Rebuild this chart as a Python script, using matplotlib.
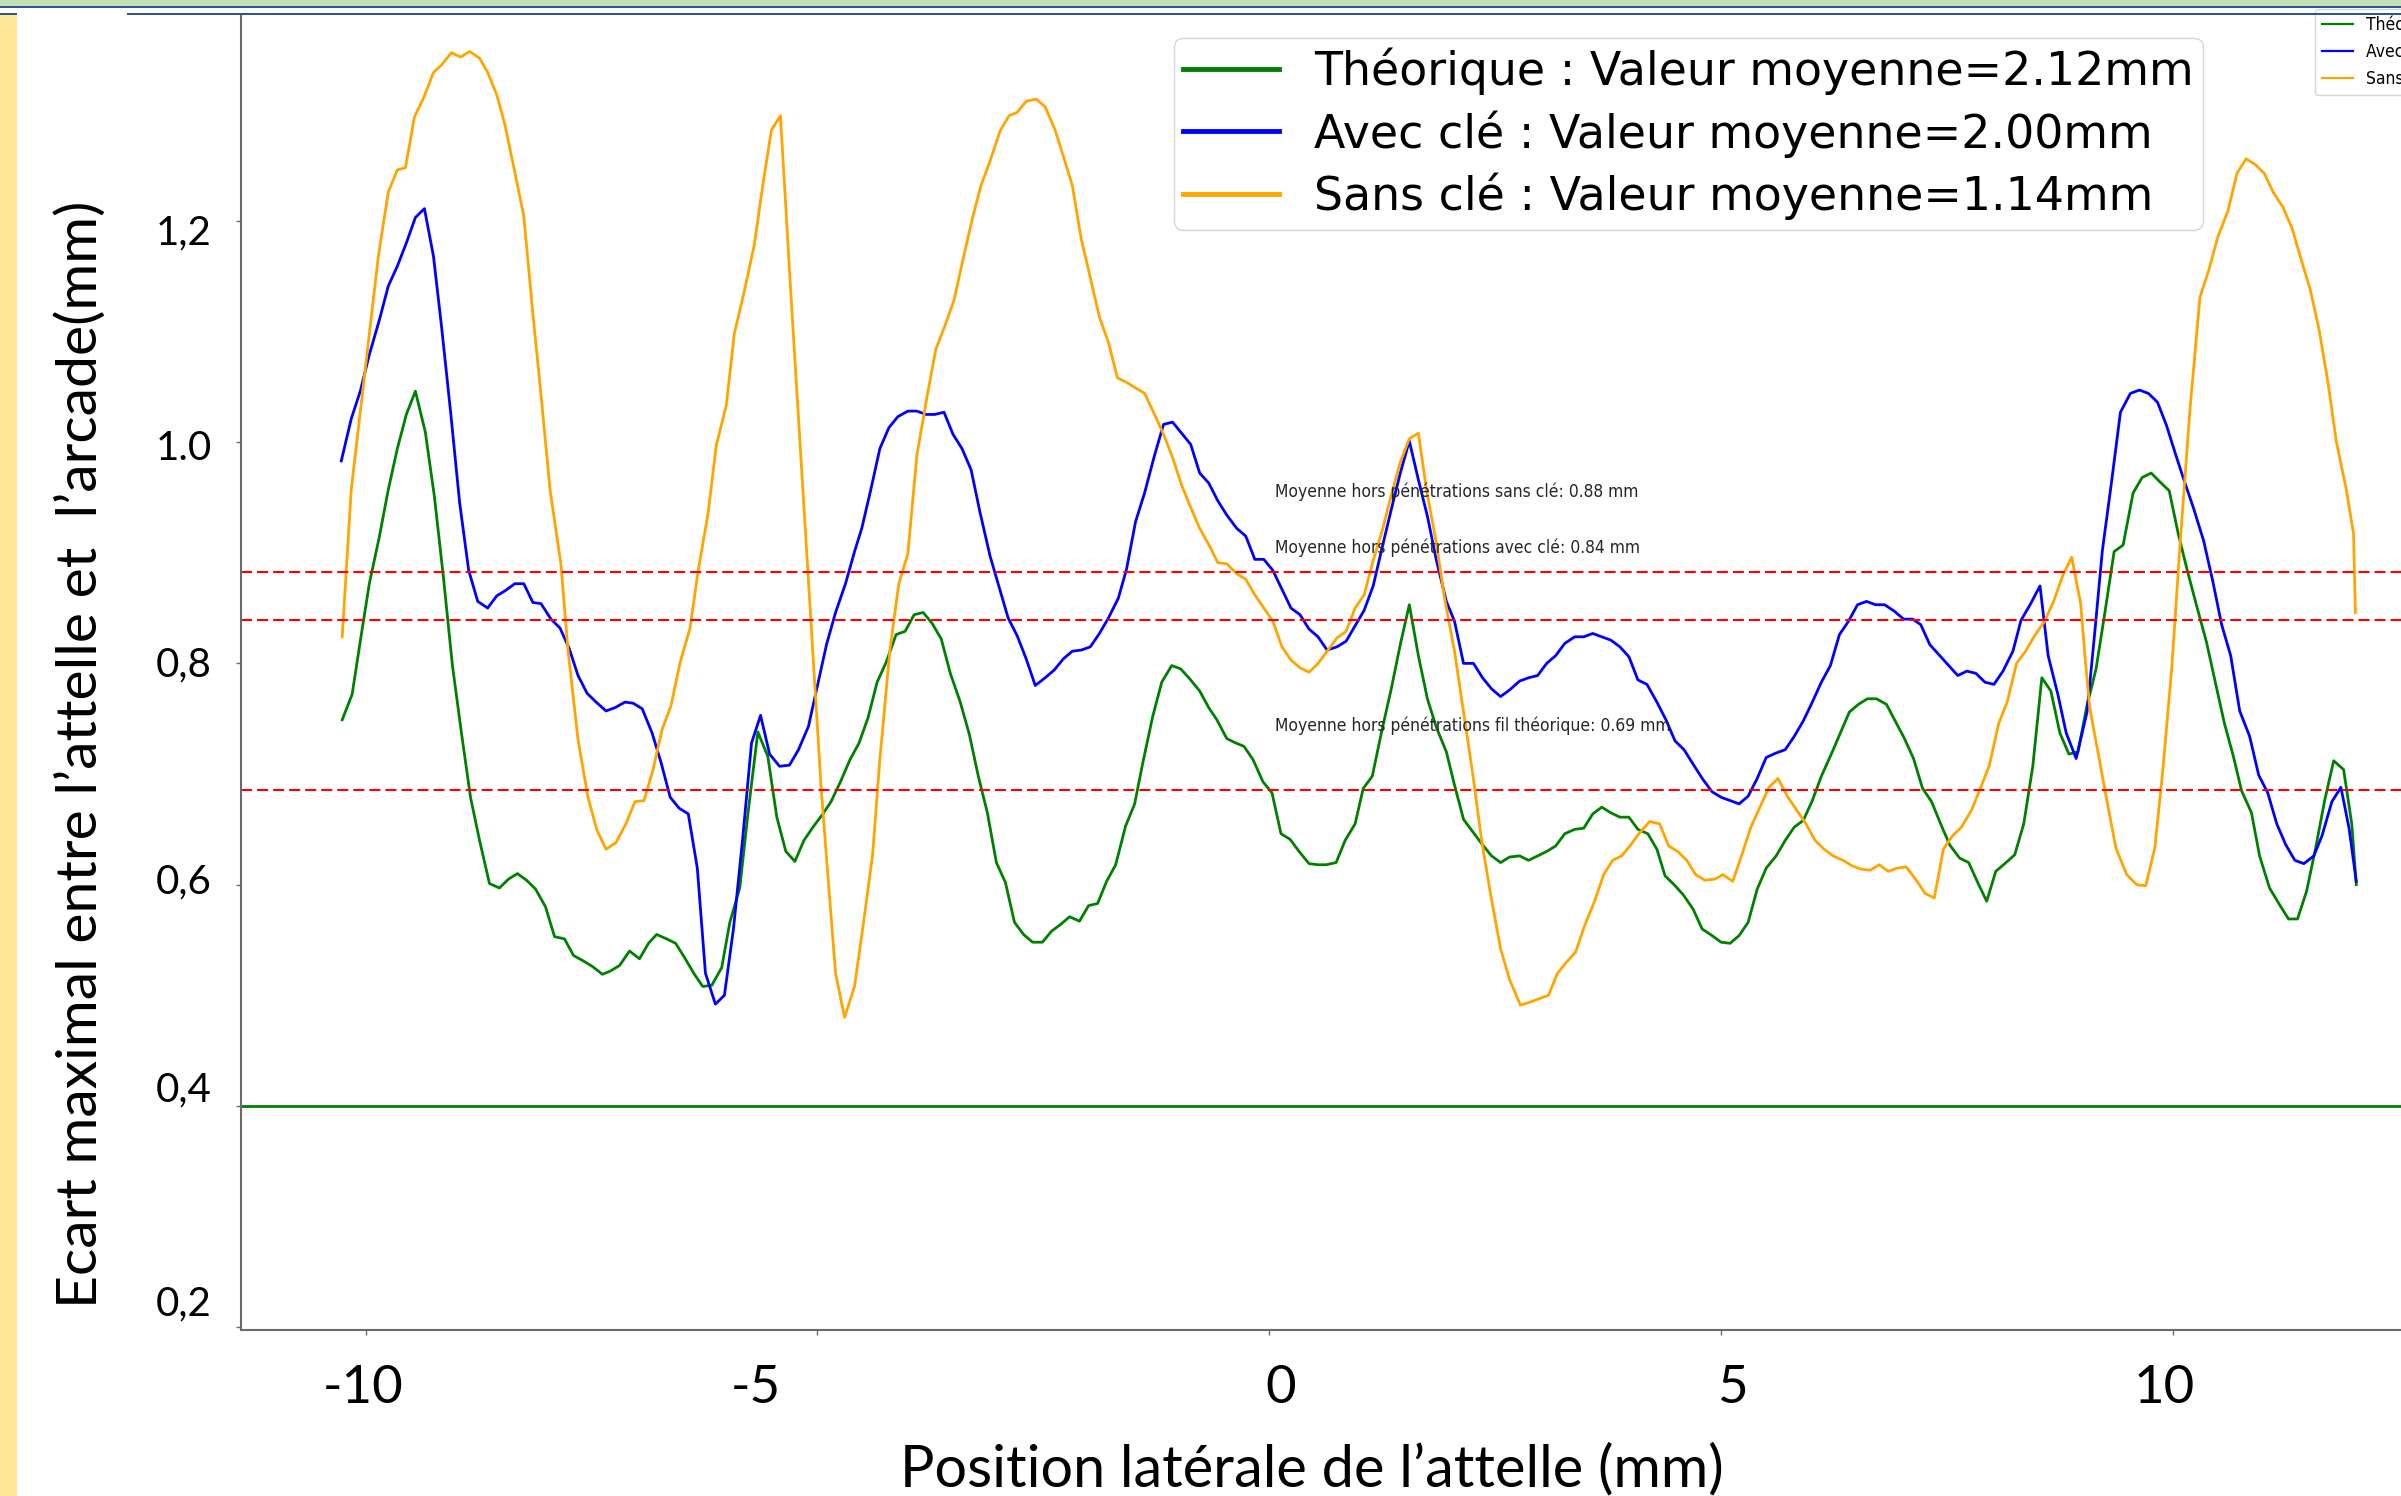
import matplotlib
matplotlib.use("Agg")
import matplotlib.pyplot as plt
from matplotlib.patches import Rectangle
from matplotlib.lines import Line2D
from matplotlib.transforms import blended_transform_factory, ScaledTranslation

W, H, DPI = 2401, 1496, 100

# ---------------- data ----------------
theo_x = [-10.26, -10.15, -10.06, -9.96, -9.85, -9.75, -9.65, -9.55, -9.45, -9.34, -9.24, -9.14, -9.04, -8.94, -8.84, -8.74,
          -8.63, -8.52, -8.42, -8.32, -8.22, -8.12, -8.01, -7.91, -7.80, -7.70, -7.59, -7.49, -7.38, -7.29, -7.19, -7.08,
          -6.97, -6.87, -6.78, -6.67, -6.57, -6.47, -6.37, -6.27, -6.17, -6.06, -5.97, -5.86, -5.77, -5.66, -5.55,
          -5.45, -5.35, -5.25, -5.15, -5.05, -4.94, -4.85, -4.74, -4.64, -4.54, -4.44, -4.34, -4.24, -4.13, -4.03, -3.93,
          -3.83, -3.73, -3.63, -3.53, -3.42, -3.32, -3.22, -3.12, -3.02, -2.92, -2.82, -2.72, -2.62, -2.51, -2.41, -2.31,
          -2.21, -2.10, -2.00, -1.90, -1.80, -1.70, -1.59, -1.49, -1.40, -1.29, -1.19, -1.08, -0.98, -0.88, -0.77, -0.67,
          -0.58, -0.47, -0.37, -0.28, -0.18, -0.07, 0.03, 0.13, 0.23, 0.33, 0.44, 0.54, 0.63, 0.74, 0.84, 0.95,
          1.04, 1.14, 1.24, 1.35, 1.45, 1.55, 1.65, 1.75, 1.85, 1.96, 2.05, 2.15, 2.26, 2.36, 2.46, 2.56,
          2.66, 2.77, 2.87, 2.97, 3.07, 3.17, 3.27, 3.38, 3.48, 3.58, 3.68, 3.78, 3.88, 3.98, 4.08, 4.19,
          4.29, 4.38, 4.48, 4.58, 4.69, 4.79, 4.90, 5.00, 5.10, 5.20, 5.30, 5.40, 5.50, 5.61, 5.71, 5.81,
          5.91, 6.01, 6.11, 6.22, 6.32, 6.42, 6.52, 6.62, 6.72, 6.83, 6.92, 7.03, 7.13, 7.23, 7.33, 7.43,
          7.53, 7.64, 7.74, 7.84, 7.94, 8.04, 8.14, 8.25, 8.35, 8.45, 8.55, 8.65, 8.75, 8.85, 8.95,
          9.05, 9.15, 9.25, 9.35, 9.45, 9.56, 9.66, 9.76, 9.87, 9.96, 10.06, 10.16, 10.26, 10.37, 10.47, 10.57,
          10.67, 10.76, 10.87, 10.96, 11.07, 11.18, 11.28, 11.38, 11.48, 11.58, 11.68, 11.78, 11.89, 11.98, 12.03]
theo_y = [0.749, 0.772, 0.820, 0.872, 0.914, 0.957, 0.994, 1.025, 1.046, 1.009, 0.951, 0.878, 0.798, 0.737, 0.679, 0.640,
          0.601, 0.597, 0.605, 0.610, 0.604, 0.596, 0.580, 0.553, 0.551, 0.536, 0.531, 0.526, 0.519, 0.522, 0.527, 0.540,
          0.533, 0.547, 0.555, 0.551, 0.547, 0.534, 0.520, 0.508, 0.509, 0.525, 0.566, 0.597, 0.664, 0.738, 0.716,
          0.661, 0.630, 0.621, 0.640, 0.652, 0.664, 0.675, 0.694, 0.713, 0.728, 0.751, 0.783, 0.801, 0.826, 0.829, 0.844,
          0.846, 0.836, 0.822, 0.791, 0.765, 0.736, 0.698, 0.665, 0.620, 0.602, 0.566, 0.555, 0.548, 0.548, 0.558, 0.564,
          0.571, 0.567, 0.581, 0.583, 0.603, 0.618, 0.653, 0.673, 0.710, 0.752, 0.783, 0.798, 0.795, 0.786, 0.775, 0.760,
          0.749, 0.732, 0.728, 0.725, 0.713, 0.693, 0.683, 0.646, 0.641, 0.630, 0.619, 0.618, 0.618, 0.620, 0.640, 0.655,
          0.687, 0.698, 0.737, 0.777, 0.817, 0.853, 0.807, 0.768, 0.742, 0.720, 0.690, 0.659, 0.647, 0.636, 0.626, 0.620,
          0.625, 0.626, 0.622, 0.626, 0.630, 0.635, 0.646, 0.650, 0.651, 0.664, 0.670, 0.665, 0.661, 0.661, 0.650, 0.646,
          0.632, 0.608, 0.600, 0.591, 0.578, 0.560, 0.554, 0.548, 0.547, 0.554, 0.566, 0.596, 0.615, 0.626, 0.640, 0.652,
          0.658, 0.676, 0.698, 0.718, 0.737, 0.756, 0.763, 0.768, 0.768, 0.763, 0.749, 0.732, 0.714, 0.687, 0.675, 0.655,
          0.636, 0.624, 0.620, 0.602, 0.585, 0.612, 0.619, 0.627, 0.655, 0.707, 0.787, 0.775, 0.737, 0.718, 0.720,
          0.762, 0.795, 0.847, 0.901, 0.907, 0.954, 0.968, 0.972, 0.963, 0.956, 0.917, 0.884, 0.853, 0.820, 0.783, 0.746,
          0.716, 0.685, 0.665, 0.626, 0.597, 0.582, 0.569, 0.569, 0.594, 0.633, 0.676, 0.712, 0.704, 0.655, 0.600]

avec_x = [-10.27, -10.16, -10.06, -9.96, -9.85, -9.75, -9.65, -9.55, -9.45, -9.35, -9.25, -9.16, -9.06, -8.96, -8.86, -8.76,
          -8.65, -8.55, -8.45, -8.35, -8.25, -8.15, -8.06, -7.95, -7.85, -7.75, -7.65, -7.55, -7.45, -7.34, -7.24, -7.13,
          -7.04, -6.94, -6.83, -6.73, -6.63, -6.53, -6.43, -6.33, -6.24, -6.13, -6.03, -5.93, -5.83, -5.73, -5.63, -5.53,
          -5.42, -5.31, -5.21, -5.10, -5.00, -4.90, -4.80, -4.69, -4.59, -4.51, -4.41, -4.31, -4.21, -4.11, -4.00, -3.90,
          -3.80, -3.70, -3.60, -3.50, -3.40, -3.30, -3.20, -3.09, -2.99, -2.89, -2.79, -2.69, -2.59, -2.48, -2.38, -2.28,
          -2.18, -2.08, -1.98, -1.88, -1.78, -1.67, -1.58, -1.48, -1.38, -1.27, -1.17, -1.07, -0.97, -0.87, -0.77, -0.67,
          -0.57, -0.47, -0.36, -0.26, -0.16, -0.06, 0.04, 0.14, 0.24, 0.34, 0.44, 0.54, 0.64, 0.75, 0.85, 0.95,
          1.05, 1.15, 1.25, 1.35, 1.45, 1.55, 1.65, 1.75, 1.85, 1.96, 2.05, 2.15, 2.26, 2.36, 2.46, 2.56,
          2.66, 2.77, 2.87, 2.97, 3.07, 3.17, 3.27, 3.38, 3.48, 3.58, 3.68, 3.78, 3.88, 3.98, 4.08,
          4.18, 4.29, 4.39, 4.49, 4.59, 4.69, 4.80, 4.90, 5.00, 5.10, 5.20, 5.30, 5.40, 5.50, 5.61, 5.71,
          5.81, 5.91, 6.01, 6.11, 6.21, 6.31, 6.41, 6.51, 6.61, 6.71, 6.81, 6.92, 7.02, 7.12, 7.21, 7.31,
          7.42, 7.52, 7.62, 7.72, 7.82, 7.92, 8.02, 8.12, 8.23, 8.32, 8.42, 8.53, 8.62, 8.73, 8.82, 8.93,
          9.05, 9.13, 9.22, 9.32, 9.42, 9.53, 9.63, 9.73, 9.83, 9.93, 10.03, 10.13, 10.23, 10.34, 10.44, 10.54,
          10.64, 10.74, 10.85, 10.95, 11.05, 11.15, 11.25, 11.35, 11.45, 11.56, 11.65, 11.76, 11.86, 11.95, 12.03]
avec_y = [0.983, 1.021, 1.046, 1.079, 1.110, 1.141, 1.159, 1.180, 1.203, 1.211, 1.168, 1.104, 1.027, 0.945, 0.884, 0.856,
          0.850, 0.861, 0.866, 0.872, 0.872, 0.855, 0.854, 0.840, 0.832, 0.814, 0.789, 0.773, 0.765, 0.757, 0.760, 0.765,
          0.764, 0.759, 0.737, 0.710, 0.679, 0.669, 0.664, 0.615, 0.520, 0.492, 0.500, 0.560, 0.640, 0.728, 0.753, 0.718,
          0.707, 0.708, 0.722, 0.743, 0.780, 0.817, 0.846, 0.872, 0.901, 0.922, 0.957, 0.994, 1.013, 1.023, 1.028, 1.028,
          1.025, 1.025, 1.027, 1.007, 0.994, 0.975, 0.936, 0.897, 0.869, 0.841, 0.825, 0.804, 0.780, 0.787, 0.794, 0.804,
          0.811, 0.812, 0.815, 0.827, 0.841, 0.859, 0.885, 0.928, 0.954, 0.988, 1.016, 1.018, 1.008, 0.998, 0.972, 0.963,
          0.947, 0.934, 0.922, 0.915, 0.894, 0.894, 0.884, 0.867, 0.850, 0.844, 0.831, 0.824, 0.812, 0.815, 0.820, 0.834,
          0.848, 0.870, 0.905, 0.939, 0.972, 1.001, 0.966, 0.933, 0.893, 0.856, 0.838, 0.800, 0.800, 0.787, 0.777, 0.770,
          0.776, 0.784, 0.787, 0.789, 0.800, 0.807, 0.818, 0.824, 0.824, 0.827, 0.824, 0.821, 0.815, 0.806, 0.785,
          0.781, 0.765, 0.749, 0.730, 0.722, 0.709, 0.695, 0.684, 0.679, 0.676, 0.673, 0.680, 0.696, 0.715, 0.719, 0.722,
          0.734, 0.748, 0.765, 0.783, 0.798, 0.826, 0.838, 0.853, 0.856, 0.853, 0.853, 0.847, 0.840, 0.840, 0.835, 0.817,
          0.807, 0.798, 0.789, 0.793, 0.791, 0.783, 0.781, 0.793, 0.811, 0.839, 0.853, 0.870, 0.807, 0.771, 0.737, 0.714,
          0.756, 0.823, 0.902, 0.963, 1.027, 1.044, 1.047, 1.044, 1.036, 1.015, 0.989, 0.964, 0.940, 0.911, 0.875, 0.835,
          0.807, 0.757, 0.734, 0.699, 0.683, 0.655, 0.636, 0.622, 0.619, 0.626, 0.644, 0.675, 0.688, 0.651, 0.603]

sans_x = [-10.26, -10.16, -9.86, -9.75, -9.65, -9.56, -9.46, -9.36, -9.25, -9.16, -9.05, -8.95, -8.85, -8.74, -8.65, -8.55,
          -8.46, -8.35, -8.25, -8.15, -8.06, -7.96, -7.84, -7.76, -7.65, -7.54, -7.44, -7.34, -7.23, -7.12, -7.02, -6.92,
          -6.82, -6.72, -6.62, -6.52, -6.41, -6.32, -6.21, -6.12, -6.01, -5.92, -5.80, -5.70, -5.60, -5.51,
          -5.41, -5.29, -5.18, -5.07, -4.96, -4.88, -4.80, -4.70, -4.59, -4.49, -4.39, -4.31, -4.20, -4.10, -4.00, -3.90,
          -3.79, -3.69, -3.59, -3.49, -3.39, -3.28, -3.19, -3.09, -2.98, -2.88, -2.79, -2.69, -2.58, -2.48, -2.37, -2.27,
          -2.18, -2.08, -1.99, -1.88, -1.78, -1.68, -1.58, -1.48, -1.38, -1.27, -1.17, -1.07, -0.97, -0.87, -0.77, -0.66,
          -0.57, -0.47, -0.36, -0.26, -0.16, -0.06, 0.04, 0.14, 0.24, 0.34, 0.44, 0.54, 0.64, 0.75, 0.85, 0.95,
          1.05, 1.15, 1.25, 1.35, 1.45, 1.55, 1.65, 1.74, 1.85, 1.94, 2.05, 2.15, 2.25, 2.35, 2.45, 2.56,
          2.66, 2.78, 2.89, 2.99, 3.09, 3.19, 3.29, 3.39, 3.49, 3.60, 3.70, 3.80, 3.90, 4.00, 4.10, 4.21,
          4.32, 4.42, 4.52, 4.62, 4.72, 4.82, 4.93, 5.02, 5.13, 5.23, 5.33, 5.43, 5.53, 5.63, 5.74, 5.84,
          5.94, 6.04, 6.14, 6.24, 6.35, 6.45, 6.55, 6.65, 6.75, 6.85, 6.95, 7.05, 7.16, 7.26, 7.36, 7.46,
          7.56, 7.66, 7.77, 7.87, 7.97, 8.07, 8.17, 8.27, 8.37, 8.47, 8.58, 8.68, 8.78, 8.88, 8.98,
          9.03, 9.08, 9.18, 9.27, 9.37, 9.49, 9.60, 9.70, 9.80, 9.89, 9.99, 10.08, 10.19, 10.30, 10.40, 10.50,
          10.61, 10.71, 10.81, 10.91, 11.01, 11.11, 11.22, 11.32, 11.42, 11.52, 11.62, 11.72, 11.81, 11.92, 12.00, 12.02]
sans_y = [0.824, 0.957, 1.168, 1.226, 1.246, 1.248, 1.294, 1.311, 1.334, 1.341, 1.352, 1.348, 1.353, 1.347, 1.334, 1.314,
          1.287, 1.244, 1.204, 1.116, 1.043, 0.957, 0.890, 0.811, 0.731, 0.679, 0.649, 0.632, 0.638, 0.655, 0.675, 0.676,
          0.704, 0.740, 0.762, 0.801, 0.832, 0.884, 0.936, 0.997, 1.033, 1.098, 1.140, 1.178, 1.235, 1.282,
          1.295, 1.128, 0.981, 0.835, 0.688, 0.603, 0.520, 0.480, 0.508, 0.566, 0.627, 0.713, 0.811, 0.872, 0.899, 0.988,
          1.040, 1.084, 1.105, 1.128, 1.165, 1.204, 1.232, 1.254, 1.281, 1.295, 1.298, 1.308, 1.310, 1.303, 1.282, 1.256,
          1.232, 1.183, 1.152, 1.113, 1.090, 1.058, 1.054, 1.049, 1.044, 1.025, 1.007, 0.986, 0.961, 0.941, 0.922, 0.906,
          0.891, 0.890, 0.881, 0.876, 0.862, 0.850, 0.838, 0.815, 0.803, 0.796, 0.792, 0.800, 0.811, 0.823, 0.829, 0.850,
          0.862, 0.893, 0.920, 0.952, 0.982, 1.003, 1.008, 0.957, 0.908, 0.859, 0.811, 0.756, 0.701, 0.640, 0.591, 0.542,
          0.514, 0.491, 0.494, 0.497, 0.500, 0.520, 0.530, 0.539, 0.563, 0.585, 0.609, 0.622, 0.626, 0.636, 0.647, 0.657,
          0.655, 0.635, 0.630, 0.622, 0.609, 0.604, 0.605, 0.609, 0.603, 0.627, 0.652, 0.670, 0.688, 0.696, 0.679, 0.667,
          0.655, 0.640, 0.632, 0.626, 0.622, 0.617, 0.614, 0.613, 0.618, 0.612, 0.615, 0.616, 0.604, 0.592, 0.588, 0.632,
          0.644, 0.652, 0.667, 0.687, 0.708, 0.745, 0.766, 0.800, 0.811, 0.825, 0.838, 0.856, 0.879, 0.896, 0.854,
          0.804, 0.760, 0.716, 0.676, 0.633, 0.609, 0.600, 0.599, 0.633, 0.704, 0.798, 0.908, 1.030, 1.131, 1.156, 1.186,
          1.209, 1.243, 1.256, 1.251, 1.243, 1.226, 1.212, 1.193, 1.165, 1.138, 1.101, 1.052, 1.000, 0.957, 0.917, 0.846]

series_labels = ["Théorique : Valeur moyenne=2.12mm",
                 "Avec clé : Valeur moyenne=2.00mm",
                 "Sans clé : Valeur moyenne=1.14mm"]
short_labels = ["Théorique", "Avec clé", "Sans clé"]
series_colors = ["green", "blue", "orange"]

mean_levels = [0.883, 0.839, 0.686]
annot_texts = ["Moyenne hors pénétrations sans clé: 0.88 mm",
               "Moyenne hors pénétrations avec clé: 0.84 mm",
               "Moyenne hors pénétrations fil théorique: 0.69 mm"]
annot_x = 0.06
annot_y = [0.9506, 0.900, 0.739]
reference_level = 0.4

yticks = [1.2, 1.0, 0.8, 0.6, 0.4, 0.2]
ytick_labels = ["1,2", "1.0", "0,8", "0,6", "0,4", "0,2"]
xticks = [-10, -5, 0, 5, 10]
xtick_labels = ["-10", "-5", "0", "5", "10"]
xlabel = "Position latérale de l’attelle (mm)"
ylabel = "Ecart maximal entre l’attelle et  l’arcade(mm)"

# ---------------- figure ----------------
def fx(px):
    return px / W

def fy(py):
    return 1 - py / H

fig = plt.figure(figsize=(W / DPI, H / DPI), dpi=DPI)
fig.patch.set_facecolor("white")

ax = fig.add_axes([fx(241), fy(1330), 1 - fx(241), (1330 - 15) / H])
ax.set_xlim(-11.38, 12.525)
ax.set_ylim(0.1975, 1.386)
for s in ["top", "right"]:
    ax.spines[s].set_visible(False)
for s in ["left", "bottom"]:
    ax.spines[s].set_color("#6b6b6b")
    ax.spines[s].set_linewidth(1.5)
ax.set_xticks(xticks)
ax.set_yticks(yticks)
ax.tick_params(direction="out", length=3.5, width=1.0, color="#6b6b6b",
               labelbottom=False, labelleft=False)

n = min(len(theo_x), len(theo_y))
ax.plot(theo_x[:n], theo_y[:n], color=series_colors[0], lw=2.0)
n = min(len(avec_x), len(avec_y))
ax.plot(avec_x[:n], avec_y[:n], color=series_colors[1], lw=2.0)
n = min(len(sans_x), len(sans_y))
ax.plot(sans_x[:n], sans_y[:n], color=series_colors[2], lw=2.0)

for lvl in mean_levels:
    ax.axhline(lvl, color="red", lw=1.5, linestyle=(0, (5.3, 2.4)))
ax.axhline(reference_level, color="green", lw=2.0)

for t, yv in zip(annot_texts, annot_y):
    ax.text(annot_x, yv, t, fontsize=12.5, family=["DejaVu Sans Condensed", "DejaVu Sans"],
            fontstretch="condensed", color="#262626", va="baseline", ha="left")

# tick labels (slide text boxes, slightly offset from ticks)
ytrans = blended_transform_factory(fig.transFigure, ax.transData)
ylab_offsets = [23.3, 18.0, 13.2, 8.4, -4.0, -12.0]
for v, lab, off in zip(yticks, ytick_labels, ylab_offsets):
    ax.text(fx(212), v, lab, transform=ytrans + ScaledTranslation(0, -off / DPI, fig.dpi_scale_trans),
            ha="right", va="baseline", fontsize=29, family="Lato", color="black")

xtrans = blended_transform_factory(ax.transData, fig.transFigure)
xlab_offsets = [-3, -62, 11, 11, -9]
for v, lab, off in zip(xticks, xtick_labels, xlab_offsets):
    ax.text(v, fy(1403), lab, transform=xtrans + ScaledTranslation(off / DPI, 0, fig.dpi_scale_trans),
            ha="center", va="baseline", fontsize=38, family="Lato", color="black")

fig.text(fx(1312), fy(1486), xlabel, ha="center", va="baseline", fontsize=41.5, family="Lato", color="black")
fig.text(fx(97), fy(754), ylabel, rotation=90, rotation_mode="anchor", ha="center", va="baseline",
         fontsize=41, family="Lato", color="black")

# legends
handles = [Line2D([], [], color=c, lw=3.5) for c in series_colors]
fig.legend(handles, series_labels, loc="upper left", bbox_to_anchor=(fx(1174), fy(38)),
           fontsize=33, handlelength=2.1, handletextpad=0.75, labelspacing=0.335,
           borderpad=0.2, borderaxespad=0)
handles2 = [Line2D([], [], color=c, lw=1.6) for c in series_colors]
fig.legend(handles2, short_labels, loc="upper left", bbox_to_anchor=(fx(2315), fy(9)),
           handlelength=1.8, handletextpad=0.75, labelspacing=0.5,
           borderaxespad=0, prop={"stretch": "condensed", "size": 12.5})

# slide decorations
def rect(x0, y0, x1, y1, color):
    fig.add_artist(Rectangle((fx(x0), fy(y1)), (x1 - x0) / W, (y1 - y0) / H,
                             transform=fig.transFigure, facecolor=color, edgecolor="none", zorder=10))

rect(0, 0, W, 5.7, "#C5E0B4")
rect(0, 5.7, W, 7.9, "#2F5597")
rect(0, 12.7, 17, 15.2, "#2F5597")
rect(127, 12.7, W, 15.2, "#2F5597")
rect(0, 15.2, 17, H, "#FFE699")

fig.savefig("out.png", dpi=DPI)
